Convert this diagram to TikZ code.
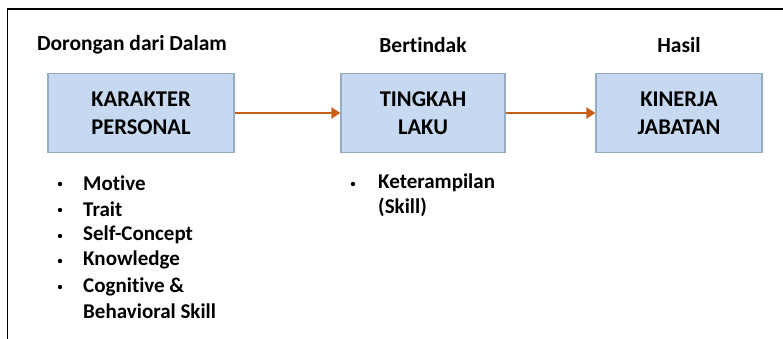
\documentclass[tikz,border=0pt]{standalone}
\usepackage{fontspec}
\setmainfont{Carlito}[Ligatures=NoCommon]
\usetikzlibrary{arrows.meta}
\definecolor{boxfill}{RGB}{198,217,240}
\definecolor{boxline}{RGB}{150,172,196}
\definecolor{flow}{RGB}{200,95,25}
\begin{document}
\begin{tikzpicture}[x=1pt,y=-1pt,
  stage/.style={draw=boxline,line width=1.2pt,fill=boxfill,minimum height=79pt,
    align=center,font=\fontsize{22.5}{28}\selectfont\bfseries,inner sep=0pt},
  heading/.style={font=\fontsize{21.5}{25}\selectfont\bfseries,inner sep=0pt},
  item/.style={font=\fontsize{21}{25.5}\selectfont\bfseries,anchor=west,align=left,inner sep=0pt},
  dot/.style={circle,fill=black,inner sep=0pt,minimum size=4.4pt},
  flowarrow/.style={draw=flow,line width=2.8pt,-{Triangle[length=9pt,width=11pt]}}]
\useasboundingbox (0,0) rectangle (783,339);
\fill[white] (0,0) rectangle (783,339);
% frame
\draw[line width=1.6pt] (7.5,339) -- (7.5,9) -- (783,9);

% headings
\node[heading] (h1) at (132,45) {Dorongan dari Dalam};
\node[heading] (h2) at (423,45) {Bertindak};
\node[heading] (h3) at (679,45) {Hasil};

% stages
\node[stage,minimum width=186pt] (kp) at (141,113) {KARAKTER\\PERSONAL};
\node[stage,minimum width=164pt] (tl) at (423,113) {TINGKAH\\LAKU};
\node[stage,minimum width=166pt] (kj) at (679,113) {KINERJA\\JABATAN};

% flow
\draw[flowarrow] (kp.east) -- (tl.west);
\draw[flowarrow] (tl.east) -- (kj.west);

% left list
\node[dot] (b1) at (60,184) {};
\node[dot] (b2) at (60,210) {};
\node[dot] (b3) at (60,236) {};
\node[dot] (b4) at (60,261) {};
\node[dot] (b5) at (60,287) {};
\node[item] (t1) at (83,183) {Motive};
\node[item] (t2) at (83,209) {Trait};
\node[item] (t3) at (83,235) {Self-Concept};
\node[item] (t4) at (83,260) {Knowledge};
\node[item] (t5) at (83,298) {Cognitive \&\\Behavioral Skill};

% middle list
\node[dot] (b6) at (353,184) {};
\node[item] (t6) at (378,195) {Keterampilan\\(Skill)};
\end{tikzpicture}
\end{document}
